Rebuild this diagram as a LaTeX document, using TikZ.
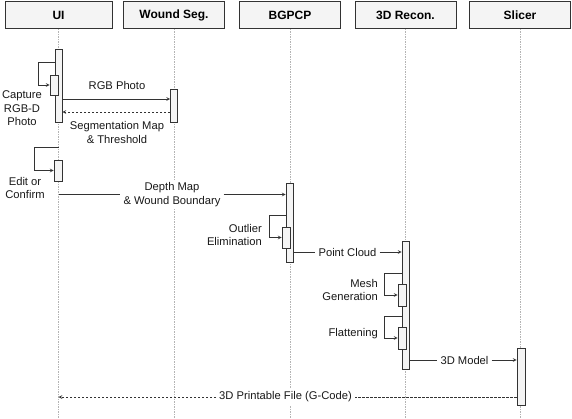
\documentclass[tikz,border=0pt]{standalone}
\usepackage{fontspec}
\setmainfont{Liberation Sans}
\usetikzlibrary{positioning}
\definecolor{lineg}{HTML}{333333}
\definecolor{boxg}{HTML}{F4F4F4}
\definecolor{lifeg}{HTML}{B4B4B4}
\tikzset{
	head/.style={draw=lineg,fill=boxg,line width=0.9pt,minimum width=101pt,minimum height=27pt,inner sep=0pt,font=\fontsize{12}{14}\selectfont\bfseries},
	actbar/.style={draw=lineg,fill=boxg,line width=0.7pt,minimum width=7pt,inner sep=0pt},
	subbar/.style={actbar,minimum width=8pt},
	msg/.style={->,draw=lineg,line width=0.7pt},
	reply/.style={msg,dash pattern=on 2.5pt off 1.5pt},
	life/.style={draw=lifeg,line width=0.6pt,dash pattern=on 1.5pt off 1pt},
	lbl/.style={fill=white,inner sep=3pt,align=center,text=black!90},
}
\begin{document}
\begin{tikzpicture}[x=1pt,y=-1pt,>=stealth,font=\fontsize{11.2}{13.5}\selectfont]
			\useasboundingbox (0,0) rectangle (572,418);
			\node[head,minimum width=107pt] (ui) at (58.5,15) {UI};
			\node[head] (seg) at (174,15) {Wound Seg.};
			\node[head] (bg) at (290,15) {BGPCP};
			\node[head] (rc) at (405.5,15) {3D Recon.};
			\node[head] (sl) at (520,15) {Slicer};
			\coordinate (bot) at (0,418);
			\foreach \p in {ui,seg,bg,rc,sl}
				\draw[life] (\p.south) -- (\p.south |- bot);
			\node[actbar,minimum height=73pt] (ui1) at (58.5,85.5) {};
			\node[subbar,minimum height=20pt] (ui1a) at (54,85) {};
			\node[actbar,minimum height=33pt] (seg1) at (174,105.5) {};
			\node[subbar,minimum height=21pt] (ui2) at (58,170.5) {};
			\node[actbar,minimum height=79pt] (bg1) at (289.5,222.5) {};
			\node[subbar,minimum height=21pt] (bg1a) at (286,237.5) {};
			\node[actbar,minimum height=128pt] (rc1) at (405.5,305) {};
			\node[subbar,minimum height=22pt] (rc1a) at (402,295) {};
			\node[subbar,minimum height=22pt] (rc1b) at (402,338) {};
			\node[actbar,minimum height=57pt,minimum width=8pt] (sl1) at (521,376.5) {};
			\coordinate (cap) at (38,62);
			\draw[msg] (ui1.west |- cap) -- (cap) |- (ui1a.west);
			\node[lbl] (capl) at (22,108.5) {Capture\\RGB-D\\Photo};
			\coordinate (m1) at (117,99);
			\node[lbl] (rgb) at (117,85) {RGB Photo};
			\draw[msg] (ui1.east |- m1) -- (seg1.west |- m1);
			\coordinate (m2) at (117,112);
			\node[lbl] (segm) at (117,132.5) {Segmentation Map\\\& Threshold};
			\draw[reply] (seg1.west |- m2) -- (ui1.east |- m2);
			\coordinate (edt) at (34,147);
			\draw[msg] (ui.south |- edt) -- (edt) |- (ui2.west);
			\node[lbl] (edtl) at (25,188) {Edit or\\Confirm};
			\node[lbl] (dm) at (172,194.5) {Depth Map\\\& Wound Boundary};
			\draw[msg] (ui.south |- dm) -- (dm) -- (bg1.west |- dm);
			\coordinate (olp) at (269,215);
			\draw[msg] (bg1.west |- olp) -- (olp) |- (bg1a.west);
			\node[lbl,anchor=east,align=right] (oll) at (265,235) {Outlier\\Elimination};
			\node[lbl] (pc) at (347.5,252) {Point Cloud};
			\draw[msg] (bg1.east |- pc) -- (pc) -- (rc1.west |- pc);
			\coordinate (msh) at (384,273);
			\draw[msg] (rc1.west |- msh) -- (msh) |- (rc1a.west);
			\node[lbl,anchor=east,align=right] (mshl) at (381,290) {Mesh\\Generation};
			\coordinate (flt) at (384,316);
			\draw[msg] (rc1.west |- flt) -- (flt) |- (rc1b.west);
			\node[lbl,anchor=east] (fltl) at (381,334) {Flattening};
			\node[lbl] (mdl) at (464.5,360) {3D Model};
			\draw[msg] (rc1.east |- mdl) -- (mdl) -- (sl1.west |- mdl);
			\node[lbl] (gc) at (285.5,397) {3D Printable File (G-Code)};
			\draw[reply] (sl1.west |- gc) -- (gc) -- (ui.south |- gc);
		\end{tikzpicture}
\end{document}
